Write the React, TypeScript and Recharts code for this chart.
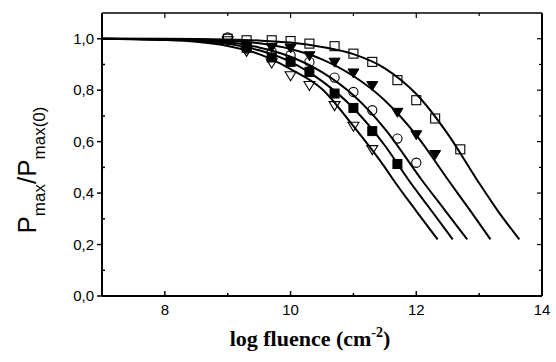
import React from 'react';
import { ComposedChart, Line, Scatter, XAxis, YAxis } from 'recharts';

// Fitted curves (log fluence vs normalised Pmax), one per sample
const fitA = [
  { x: 7.0, y: 1.0 }, { x: 7.5, y: 0.998 }, { x: 8.0, y: 0.995 }, { x: 8.5, y: 0.988 },
  { x: 9.0, y: 0.972 }, { x: 9.5, y: 0.94 }, { x: 10.0, y: 0.882 }, { x: 10.5, y: 0.805 },
  { x: 11.0, y: 0.66 }, { x: 11.5, y: 0.5 }, { x: 11.64, y: 0.45 }, { x: 12.0, y: 0.33 }, { x: 12.34, y: 0.22 },
];
const fitB = [
  { x: 7.0, y: 1.0 }, { x: 8.0, y: 0.997 }, { x: 8.5, y: 0.992 }, { x: 9.0, y: 0.98 },
  { x: 9.5, y: 0.955 }, { x: 10.0, y: 0.91 }, { x: 10.5, y: 0.835 }, { x: 11.0, y: 0.73 },
  { x: 11.5, y: 0.585 }, { x: 11.88, y: 0.45 }, { x: 12.2, y: 0.345 }, { x: 12.58, y: 0.22 },
];
const fitC = [
  { x: 7.0, y: 1.0 }, { x: 8.0, y: 0.998 }, { x: 9.0, y: 0.986 }, { x: 9.5, y: 0.966 },
  { x: 10.0, y: 0.93 }, { x: 10.5, y: 0.87 }, { x: 11.0, y: 0.78 }, { x: 11.5, y: 0.65 },
  { x: 12.09, y: 0.45 }, { x: 12.45, y: 0.335 }, { x: 12.81, y: 0.22 },
];
const fitD = [
  { x: 7.0, y: 1.0 }, { x: 8.0, y: 0.999 }, { x: 9.0, y: 0.992 }, { x: 9.5, y: 0.982 },
  { x: 10.0, y: 0.96 }, { x: 10.5, y: 0.92 }, { x: 11.0, y: 0.855 }, { x: 11.5, y: 0.76 },
  { x: 12.0, y: 0.625 }, { x: 12.51, y: 0.45 }, { x: 12.85, y: 0.335 }, { x: 13.18, y: 0.22 },
];
const fitE = [
  { x: 7.0, y: 1.0 }, { x: 8.0, y: 1.0 }, { x: 9.0, y: 0.997 }, { x: 9.5, y: 0.993 },
  { x: 10.0, y: 0.985 }, { x: 10.5, y: 0.968 }, { x: 11.0, y: 0.94 }, { x: 11.5, y: 0.885 },
  { x: 12.0, y: 0.785 }, { x: 12.5, y: 0.63 }, { x: 12.97, y: 0.45 }, { x: 13.3, y: 0.33 }, { x: 13.64, y: 0.22 },
];

// Measured points
const openSquares = [
  { x: 9.0, y: 1.0 }, { x: 9.3, y: 0.994 }, { x: 9.7, y: 0.994 }, { x: 10.0, y: 0.991 },
  { x: 10.3, y: 0.981 }, { x: 10.7, y: 0.971 }, { x: 11.0, y: 0.942 }, { x: 11.3, y: 0.91 },
  { x: 11.7, y: 0.839 }, { x: 12.0, y: 0.761 }, { x: 12.3, y: 0.69 }, { x: 12.7, y: 0.57 },
];
const filledTriangles = [
  { x: 9.3, y: 0.968 }, { x: 9.7, y: 0.964 }, { x: 10.0, y: 0.962 },
  { x: 10.3, y: 0.932 }, { x: 10.7, y: 0.907 }, { x: 11.0, y: 0.865 }, { x: 11.3, y: 0.816 },
  { x: 11.7, y: 0.712 }, { x: 12.0, y: 0.625 }, { x: 12.3, y: 0.548 },
];
const openCircles = [
  { x: 9.0, y: 1.005 }, { x: 9.3, y: 0.962 }, { x: 9.7, y: 0.95 }, { x: 10.0, y: 0.936 },
  { x: 10.3, y: 0.91 }, { x: 10.7, y: 0.849 }, { x: 11.0, y: 0.793 }, { x: 11.3, y: 0.722 },
  { x: 11.7, y: 0.612 }, { x: 12.0, y: 0.518 },
];
const filledSquares = [
  { x: 9.3, y: 0.965 }, { x: 9.7, y: 0.927 }, { x: 10.0, y: 0.91 },
  { x: 10.3, y: 0.871 }, { x: 10.7, y: 0.787 }, { x: 11.0, y: 0.731 }, { x: 11.3, y: 0.641 },
  { x: 11.7, y: 0.513 },
];
const openTriangles = [
  { x: 9.0, y: 0.99 }, { x: 9.3, y: 0.949 }, { x: 9.7, y: 0.904 }, { x: 10.0, y: 0.854 },
  { x: 10.3, y: 0.816 }, { x: 10.7, y: 0.738 }, { x: 11.0, y: 0.658 }, { x: 11.3, y: 0.567 },
];

const xTicks = [7, 8, 9, 10, 11, 12, 13, 14];
const yTicks = [0, 0.1, 0.2, 0.3, 0.4, 0.5, 0.6, 0.7, 0.8, 0.9, 1.0];

const W = 556;
const H = 362;
const INK = '#000';
const TICK_FONT = '"Liberation Sans", Arial, sans-serif';

const fmtY = (v: number) => v.toFixed(1).replace('.', ',');
const isMajorY = (v: number) => Math.round(v * 10) % 2 === 0;
const isMajorX = (v: number) => v % 2 === 0;

const BottomTick = (p: any) => {
  const { x, y, payload } = p;
  const v = payload.value;
  const major = isMajorX(v);
  return (
    <g>
      <line x1={x} x2={x} y1={y} y2={y - (major ? 5 : 3)} stroke={INK} strokeWidth={1.5} />
      {major && v !== 7 && (
        <text x={x} y={y + 19} textAnchor="middle" fontFamily={TICK_FONT} fontSize={15} fill={INK}>
          {v}
        </text>
      )}
    </g>
  );
};

const TopTick = (p: any) => {
  const { x, y, payload } = p;
  const major = isMajorX(payload.value);
  return <line x1={x} x2={x} y1={y} y2={y + (major ? 5 : 3)} stroke={INK} strokeWidth={1.2} />;
};

const LeftTick = (p: any) => {
  const { x, y, payload } = p;
  const v = payload.value;
  const major = isMajorY(v);
  return (
    <g>
      {major ? (
        <line x1={x - 5} x2={x} y1={y} y2={y} stroke={INK} strokeWidth={1.5} />
      ) : (
        <line x1={x} x2={x + 3} y1={y} y2={y} stroke={INK} strokeWidth={1.5} />
      )}
      {major && (
        <text x={x - 8} y={y + 5} textAnchor="end" fontFamily={TICK_FONT} fontSize={15} fill={INK}>
          {fmtY(v)}
        </text>
      )}
    </g>
  );
};

const RightTick = (p: any) => {
  const { x, y, payload } = p;
  const major = isMajorY(payload.value);
  return <line x1={x} x2={x - (major ? 5 : 3)} y1={y} y2={y} stroke={INK} strokeWidth={1.2} />;
};

const SquareOpen = (p: any) => (
  <rect x={p.cx - 4.5} y={p.cy - 4.5} width={9} height={9} fill="none" stroke={INK} strokeWidth={1.1} />
);
const SquareFilled = (p: any) => (
  <rect x={p.cx - 4.5} y={p.cy - 4.5} width={9} height={9} fill={INK} stroke={INK} strokeWidth={1} />
);
const CircleOpen = (p: any) => (
  <circle cx={p.cx} cy={p.cy} r={4.6} fill="none" stroke={INK} strokeWidth={1.1} />
);
const TriDown = (cx: number, cy: number) =>
  `M${cx - 5.5},${cy - 4.5} L${cx + 5.5},${cy - 4.5} L${cx},${cy + 4.5} Z`;
const TriangleFilled = (p: any) => <path d={TriDown(p.cx, p.cy)} fill={INK} stroke={INK} strokeWidth={1} />;
const TriangleOpen = (p: any) => <path d={TriDown(p.cx, p.cy)} fill="none" stroke={INK} strokeWidth={1.1} />;

const fits = [fitA, fitB, fitC, fitD, fitE];

export default function App() {
  return (
    <div style={{ position: 'absolute', left: 0, top: 0, width: W, height: H, background: '#fff' }}>
      <ComposedChart width={W} height={H} margin={{ top: 12, right: 13, left: 0, bottom: 0 }}>
        <XAxis
          xAxisId="b"
          dataKey="x"
          type="number"
          domain={[7, 14]}
          ticks={xTicks}
          interval={0}
          height={66}
          tickSize={0}
          tickMargin={0}
          tickLine={false}
          tick={BottomTick}
          axisLine={{ stroke: INK, strokeWidth: 2 }}
          allowDataOverflow
        />
        <XAxis
          xAxisId="t"
          orientation="top"
          dataKey="x"
          type="number"
          domain={[7, 14]}
          ticks={xTicks}
          interval={0}
          height={1}
          tickSize={0}
          tickMargin={0}
          tickLine={false}
          tick={TopTick}
          axisLine={{ stroke: INK, strokeWidth: 1.5 }}
          allowDataOverflow
        />
        <YAxis
          yAxisId="l"
          dataKey="y"
          type="number"
          domain={[0, 1.1]}
          ticks={yTicks}
          interval={0}
          width={102}
          tickSize={0}
          tickMargin={0}
          tickLine={false}
          tick={LeftTick}
          axisLine={{ stroke: INK, strokeWidth: 2 }}
          allowDataOverflow
        />
        <YAxis
          yAxisId="r"
          orientation="right"
          dataKey="y"
          type="number"
          domain={[0, 1.1]}
          ticks={yTicks}
          interval={0}
          width={1}
          tickSize={0}
          tickMargin={0}
          tickLine={false}
          tick={RightTick}
          axisLine={{ stroke: INK, strokeWidth: 2 }}
          allowDataOverflow
        />
        {fits.map((d, i) => (
          <Line
            key={i}
            xAxisId="b"
            yAxisId="l"
            data={d}
            dataKey="y"
            type="monotone"
            stroke={INK}
            strokeWidth={2}
            dot={false}
            activeDot={false}
            isAnimationActive={false}
          />
        ))}
        <Scatter xAxisId="b" yAxisId="l" data={openSquares} dataKey="y" shape={SquareOpen} isAnimationActive={false} />
        <Scatter xAxisId="b" yAxisId="l" data={filledTriangles} dataKey="y" shape={TriangleFilled} isAnimationActive={false} />
        <Scatter xAxisId="b" yAxisId="l" data={openCircles} dataKey="y" shape={CircleOpen} isAnimationActive={false} />
        <Scatter xAxisId="b" yAxisId="l" data={filledSquares} dataKey="y" shape={SquareFilled} isAnimationActive={false} />
        <Scatter xAxisId="b" yAxisId="l" data={openTriangles} dataKey="y" shape={TriangleOpen} isAnimationActive={false} />
      </ComposedChart>
      <svg width={W} height={H} style={{ position: 'absolute', left: 0, top: 0, pointerEvents: 'none' }}>
        <text
          transform="translate(36,170) rotate(-90)"
          textAnchor="middle"
          fontFamily={TICK_FONT}
          fill={INK}
        >
          <tspan fontSize={26}>P</tspan>
          <tspan fontSize={17} dy={9}>max</tspan>
          <tspan fontSize={26} dy={-9}>/P</tspan>
          <tspan fontSize={17} dy={9}>max(0)</tspan>
        </text>
        <text
          x={310}
          y={346}
          textAnchor="middle"
          fontFamily='"Liberation Serif", "Times New Roman", serif'
          fontWeight="bold"
          fontSize={22}
          fill={INK}
        >
          log fluence (cm
          <tspan fontSize={14} dy={-9}>-2</tspan>
          <tspan dy={9}>)</tspan>
        </text>
      </svg>
    </div>
  );
}
